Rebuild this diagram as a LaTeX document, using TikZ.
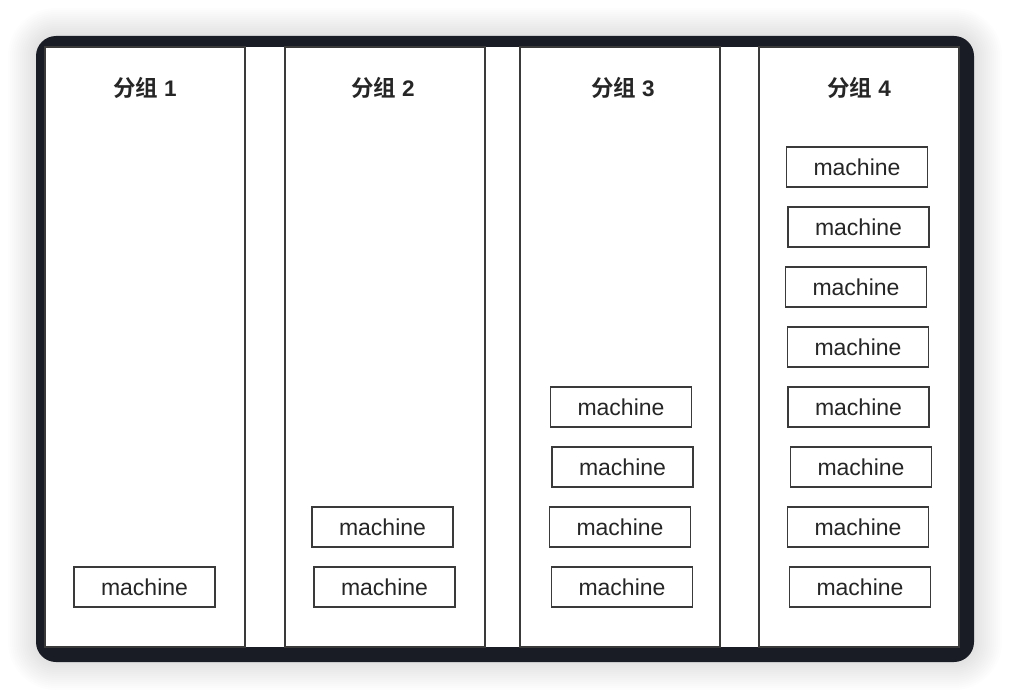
\documentclass[tikz,border=0pt]{standalone}
\usepackage{fontspec}
\setmainfont{Liberation Sans}
\newfontfamily\cjkb{Noto Sans CJK SC Bold}
\usetikzlibrary{positioning}
\definecolor{framedark}{HTML}{191C25}
\definecolor{linegray}{HTML}{3A3A3A}
\definecolor{textgray}{HTML}{262626}
\newcommand{\groupname}[1]{{\cjkb 分组}\hspace{6pt}{\bfseries #1}}
\tikzset{group/.style={draw=linegray, line width=1.3pt, fill=white, minimum width=200pt, minimum height=600pt, inner sep=0pt},
         grouptitle/.style={text=textgray, font=\fontsize{22.5}{22.5}\selectfont, inner sep=0pt},
         machine/.style={draw=linegray, line width=1.3pt, text=textgray, minimum width=141pt, minimum height=40pt, inner sep=0pt, font=\fontsize{23}{23}\selectfont}}

\begin{document}
\begin{tikzpicture}[x=1pt,y=-1pt]
     \useasboundingbox[fill=white] (0,0) rectangle (1010,698);
     % soft shadow round the frame
     \foreach \s [evaluate=\s as \r using 20+2*\s] in {1,...,14}
      \fill[black, opacity=0.007, rounded corners=\r pt] (36-2*\s,36-2*\s) rectangle (974+2*\s,662+2*\s);
     \fill[framedark, rounded corners=20pt] (36,36) rectangle (974,662);
     \fill[white] (45,47) rectangle (959,647);
     \begin{scope}[xshift=145pt]
      \node[group] (g1) at (0,347) {};
      \node[grouptitle] (t1) at (0,88) {\groupname{1}};
      \node[machine] (m11) at (-0.5,587) {machine};
     \end{scope}
     \begin{scope}[xshift=385pt]
      \node[group] (g2) at (0,347) {};
      \node[grouptitle] (t2) at (-2,88) {\groupname{2}};
      \node[machine] (m21) at (-2.5,527) {machine};
      \node[machine] (m22) at (-0.5,587) {machine};
     \end{scope}
     \begin{scope}[xshift=620pt]
      \node[group] (g3) at (0,347) {};
      \node[grouptitle] (t3) at (3,88) {\groupname{3}};
      \node[machine] (m31) at (1,407) {machine};
      \node[machine] (m32) at (2.5,467) {machine};
      \node[machine] (m33) at (0,527) {machine};
      \node[machine] (m34) at (2,587) {machine};
     \end{scope}
     \begin{scope}[xshift=859pt]
      \node[group] (g4) at (0,347) {};
      \node[grouptitle] (t4) at (0,88) {\groupname{4}};
      \node[machine] (m41) at (-2,167) {machine};
      \node[machine] (m42) at (-0.5,227) {machine};
      \node[machine] (m43) at (-3,287) {machine};
      \node[machine] (m44) at (-1,347) {machine};
      \node[machine] (m45) at (-0.5,407) {machine};
      \node[machine] (m46) at (2,467) {machine};
      \node[machine] (m47) at (-1,527) {machine};
      \node[machine] (m48) at (1,587) {machine};
     \end{scope}
    \end{tikzpicture}
\end{document}
